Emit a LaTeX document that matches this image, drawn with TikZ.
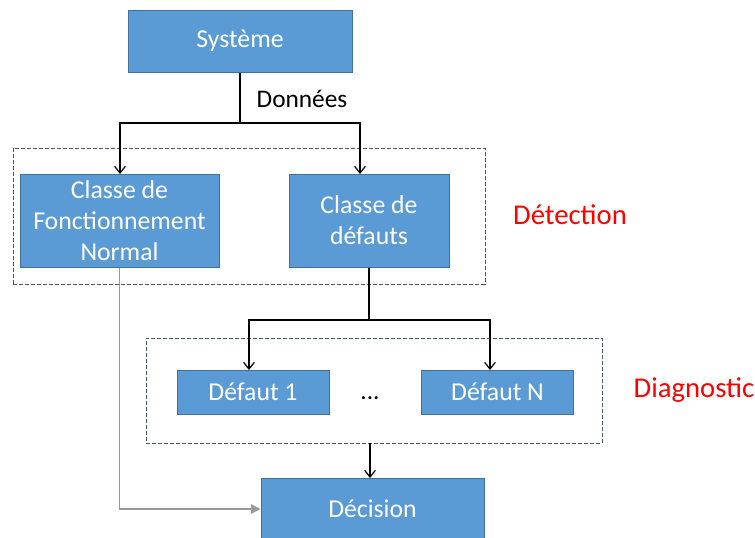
\documentclass[tikz,border=0pt]{standalone}
\usepackage{fontspec}
\setmainfont{Carlito}
\usepackage{xcolor}
\usepackage{tikz}
\usetikzlibrary{positioning,calc,arrows.meta}
\definecolor{boxblue}{HTML}{5B9BD5}
\definecolor{boxedge}{HTML}{41719C}
\definecolor{dashgray}{HTML}{44546A}
\tikzstyle{blk}= [rectangle, draw=boxedge, fill=boxblue, text=white, align=center, inner sep=0pt, line width=0.75pt, font=\fontsize{19.3}{23.25}\selectfont]
\tikzstyle{grp}= [rectangle, draw=dashgray, dash pattern=on 3pt off 1.5pt, line width=0.75pt, inner sep=0pt]
\tikzstyle{lbl}= [text=red, font=\fontsize{21.5}{25}\selectfont]
\tikzstyle{arr}= [line width=0.9pt, -{Straight Barb[length=5pt,width=8pt]}]

\begin{document}
\begin{tikzpicture}[x=0.75pt, y=-0.75pt]
				\useasboundingbox (0,0) rectangle (755,537);
				\node[blk, minimum width=168pt, minimum height=46.5pt] (sys) at (240, 41) {Système};
				\node[grp, minimum width=354pt, minimum height=102pt] (det) at (249, 216) {};
				\node[blk, minimum width=149.25pt, minimum height=69.75pt] (cfn) at (119.5, 220.5) {Classe de\\Fonctionnement\\Normal};
				\node[blk, minimum width=120pt, minimum height=69.75pt] (cd) at (369, 220.5) {Classe de\\défauts};
				\node[lbl] (ldet) at (570, 215) {Détection};
				
				\node[grp, minimum width=342pt, minimum height=78.75pt] (diag) at (374, 390.5) {};
				\node[blk, minimum width=114pt, minimum height=33pt] (d1) at (253, 392) {Défaut 1};
				\node[blk, minimum width=114pt, minimum height=33pt] (dn) at (497.5, 392) {Défaut N};
				\node[font=\fontsize{19}{22}\selectfont] (dots) at (370, 398) {...};
				\node[lbl, anchor=west] (ldiag) at (629, 390) {Diagnostic};
				
				\node[blk, minimum width=167.25pt, minimum height=46.5pt] (dec) at (372.5, 509) {Décision};
				
				\coordinate (s1) at (240, 123);
				\coordinate (s2) at (369, 320);
				\node[anchor=west, font=\fontsize{19}{22}\selectfont] (don) at (252, 99) {Données};
				
				\draw[line width=0.9pt] (sys.south) -- (s1);
				\draw[arr] (s1) -| (120, 174);
				\draw[arr] (s1) -| (360, 174);
				\draw[line width=0.9pt] (cd.south) -- (s2);
				\draw[arr] (s2) -| (249, 370);
				\draw[arr] (s2) -| (490, 370);
				\draw[arr] (370, 443) -- (370, 478);
				\draw[draw=gray!80, line width=0.9pt, -{Triangle[length=7pt,width=7pt]}] (cfn.south) |- (dec.west);
			\end{tikzpicture}
\end{document}
